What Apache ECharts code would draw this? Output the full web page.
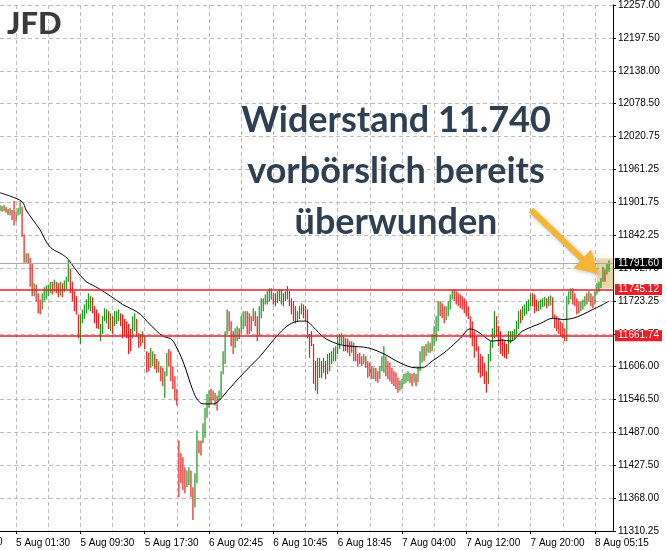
<!DOCTYPE html>
<html><head><meta charset="utf-8">
<script src="https://cdn.jsdelivr.net/npm/echarts@6/dist/echarts.min.js"></script>
<style>html,body{margin:0;padding:0;background:#fff}#c{width:666px;height:550px}</style>
</head><body><div id="c"></div>
<script>
// OHLC rows: [open, close, low, high], 15-minute bars
const bars = [
[11889,11895,11886,11897],[11894,11887,11885,11895],[11888,11895,11886,11897],[11892,11885,11883,11894],[11886,11881,11879,11890],
[11881,11889,11878,11892],[11888,11873,11870,11888],[11874,11862,11860,11904],[11869,11882,11867,11885],[11881,11889,11878,11892],
[11888,11901,11881,11904],[11893,11842,11840,11894],[11842,11796,11793,11844],[11796,11807,11793,11810],[11807,11794,11792,11810],
[11796,11753,11750,11802],[11754,11736,11733,11792],[11736,11753,11733,11756],[11752,11726,11724,11754],[11727,11705,11702,11738],
[11706,11702,11700,11727],[11712,11735,11709,11738],[11734,11746,11724,11749],[11745,11750,11727,11752],[11742,11752,11733,11754],
[11745,11757,11738,11759],[11757,11740,11736,11759],[11741,11760,11741,11763],[11758,11741,11738,11759],[11741,11733,11731,11756],
[11734,11756,11734,11759],[11755,11734,11731,11756],[11744,11758,11741,11761],[11757,11766,11745,11768],[11765,11790,11759,11797],
[11780,11742,11738,11782],[11743,11727,11724,11759],[11728,11709,11706,11742],[11710,11703,11700,11733],[11700,11662,11657,11700],
[11662,11696,11647,11700],[11695,11706,11684,11709],[11706,11715,11692,11718],[11714,11724,11702,11727],[11723,11735,11709,11738],
[11728,11730,11706,11733],[11730,11706,11702,11731],[11706,11688,11684,11715],[11689,11679,11675,11709],[11680,11676,11674,11702],
[11656,11679,11652,11683],[11678,11694,11665,11697],[11694,11708,11688,11711],[11700,11706,11684,11709],[11705,11677,11674,11706],
[11677,11699,11670,11702],[11696,11668,11665,11697],[11682,11702,11679,11706],[11690,11703,11683,11706],[11695,11706,11688,11709],
[11701,11682,11679,11702],[11683,11661,11657,11700],[11675,11665,11661,11692],[11670,11661,11657,11688],[11662,11633,11629,11683],
[11660,11640,11634,11674],[11660,11692,11657,11697],[11680,11699,11670,11702],[11690,11665,11661,11692],[11664,11643,11640,11666],
[11660,11646,11643,11665],[11650,11667,11648,11670],[11659,11641,11638,11661],[11634,11598,11595,11634],[11620,11602,11598,11631],
[11606,11636,11604,11640],[11615,11630,11607,11634],[11627,11605,11602,11629],[11612,11598,11595,11620],[11598,11613,11595,11616],
[11607,11584,11580,11607],[11590,11575,11571,11604],[11575,11594,11550,11598],[11594,11627,11589,11631],[11628,11610,11607,11638],
[11612,11584,11580,11634],[11586,11570,11566,11607],[11575,11549,11545,11589],[11551,11539,11536,11566],[11470,11375,11371,11473],
[11445,11400,11396,11450],[11440,11388,11384,11443],[11420,11382,11378,11425],[11390,11416,11389,11419],[11395,11421,11393,11425],
[11418,11375,11371,11419],[11380,11334,11330,11389],[11356,11410,11353,11414],[11408,11486,11396,11491],[11470,11452,11450,11473],
[11468,11450,11446,11473],[11470,11500,11468,11504],[11498,11528,11478,11532],[11527,11553,11514,11557],[11545,11560,11532,11563],
[11564,11543,11539,11566],[11555,11547,11545,11563],[11542,11556,11536,11559],[11553,11530,11527,11554],[11546,11560,11545,11563],
[11558,11594,11550,11598],[11594,11630,11593,11634],[11628,11666,11611,11670],[11666,11705,11665,11709],[11704,11674,11670,11706],
[11676,11647,11643,11688],[11650,11633,11629,11670],[11640,11671,11640,11675],[11662,11676,11652,11679],[11674,11659,11656,11675],
[11665,11693,11665,11697],[11690,11702,11674,11706],[11695,11703,11679,11706],[11704,11668,11665,11706],[11690,11669,11665,11702],
[11690,11674,11670,11697],[11690,11708,11688,11711],[11705,11682,11679,11706],[11690,11656,11652,11697],[11663,11710,11661,11715],
[11705,11726,11693,11729],[11712,11726,11706,11729],[11722,11733,11718,11736],[11728,11739,11718,11742],[11732,11744,11724,11747],
[11738,11745,11727,11747],[11737,11722,11718,11738],[11733,11718,11715,11738],[11720,11738,11720,11742],[11730,11742,11724,11745],
[11735,11743,11718,11745],[11737,11718,11715,11738],[11725,11739,11724,11742],[11736,11748,11727,11751],[11741,11718,11715,11742],
[11720,11704,11700,11729],[11706,11692,11688,11724],[11700,11688,11684,11715],[11690,11703,11688,11706],[11700,11711,11692,11715],
[11706,11717,11700,11720],[11716,11697,11693,11718],[11705,11691,11688,11715],[11692,11661,11657,11709],[11662,11625,11622,11665],
[11668,11646,11643,11670],[11646,11579,11575,11647],[11600,11566,11563,11616],[11566,11618,11557,11622],[11595,11615,11586,11622],
[11614,11590,11586,11616],[11596,11618,11595,11622],[11615,11588,11584,11616],[11595,11625,11593,11629],[11610,11628,11598,11631],
[11620,11631,11611,11634],[11625,11636,11616,11640],[11630,11640,11616,11643],[11635,11657,11629,11661],[11650,11662,11638,11665],
[11655,11664,11647,11666],[11660,11638,11634,11661],[11650,11637,11634,11657],[11645,11634,11631,11656],[11648,11629,11625,11652],
[11631,11649,11631,11652],[11647,11620,11616,11649],[11635,11620,11616,11643],[11625,11610,11607,11629],[11628,11614,11611,11631],
[11622,11610,11607,11625],[11612,11626,11611,11629],[11624,11607,11604,11625],[11610,11590,11586,11616],[11605,11592,11589,11613],
[11600,11588,11584,11607],[11586,11600,11584,11604],[11600,11584,11580,11604],[11590,11580,11577,11598],[11585,11604,11584,11607],
[11602,11622,11598,11625],[11620,11640,11595,11643],[11624,11594,11589,11625],[11605,11588,11584,11616],[11600,11584,11580,11613],
[11595,11578,11575,11604],[11590,11575,11571,11598],[11585,11570,11566,11595],[11580,11562,11559,11586],[11563,11578,11563,11581],
[11570,11582,11566,11584],[11580,11590,11575,11593],[11585,11592,11577,11595],[11588,11596,11580,11598],[11594,11580,11577,11595],
[11585,11575,11571,11593],[11578,11592,11577,11595],[11590,11575,11571,11593],[11578,11604,11578,11607],[11603,11630,11598,11634],
[11625,11640,11613,11643],[11640,11620,11616,11643],[11625,11644,11625,11647],[11640,11649,11631,11652],[11648,11634,11631,11649],
[11635,11661,11634,11665],[11655,11675,11643,11679],[11670,11693,11652,11697],[11690,11720,11670,11724],[11720,11700,11697,11724],
[11712,11697,11693,11720],[11705,11688,11684,11715],[11690,11711,11690,11715],[11705,11720,11697,11724],[11715,11733,11709,11736],
[11730,11742,11727,11745],[11742,11727,11724,11745],[11735,11722,11718,11742],[11730,11718,11715,11738],[11728,11715,11711,11736],
[11725,11713,11709,11733],[11720,11706,11702,11729],[11715,11700,11697,11724],[11708,11695,11692,11715],[11695,11661,11657,11697],
[11675,11647,11643,11688],[11660,11625,11622,11670],[11655,11638,11634,11661],[11640,11598,11595,11643],[11610,11590,11586,11629],
[11605,11593,11589,11625],[11600,11579,11575,11613],[11585,11563,11559,11598],[11578,11625,11575,11629],[11620,11648,11616,11652],
[11645,11671,11640,11675],[11665,11702,11657,11706],[11695,11665,11661,11697],[11670,11648,11643,11679],[11660,11633,11629,11670],
[11645,11630,11625,11656],[11640,11626,11622,11652],[11638,11624,11620,11647],[11630,11666,11629,11670],[11655,11667,11648,11670],
[11660,11668,11652,11670],[11662,11670,11656,11674],[11668,11684,11661,11688],[11682,11702,11674,11706],[11700,11688,11684,11709],
[11690,11711,11690,11715],[11705,11715,11697,11718],[11710,11720,11700,11724],[11715,11724,11706,11727],[11722,11735,11715,11738],
[11735,11718,11715,11738],[11720,11706,11702,11736],[11718,11709,11706,11727],[11708,11720,11706,11724],[11715,11724,11709,11727],
[11720,11726,11713,11729],[11722,11728,11715,11731],[11727,11714,11711,11729],[11715,11730,11715,11733],[11725,11732,11716,11734],
[11730,11697,11693,11731],[11697,11679,11675,11700],[11690,11674,11670,11697],[11685,11668,11665,11693],[11680,11665,11661,11688],
[11675,11661,11657,11684],[11668,11656,11652,11675],[11656,11728,11652,11733],[11727,11738,11718,11742],[11736,11744,11727,11747],
[11744,11722,11718,11747],[11730,11718,11715,11738],[11720,11704,11700,11729],[11712,11705,11702,11724],[11706,11720,11706,11724],
[11715,11724,11709,11727],[11720,11730,11715,11733],[11735,11722,11718,11738],[11724,11739,11724,11742],[11737,11718,11715,11738],
[11720,11714,11711,11733],[11718,11739,11718,11742],[11738,11753,11736,11756],[11750,11757,11741,11759],[11755,11762,11747,11765],
[11762,11783,11759,11786],[11780,11764,11759,11781],[11772,11788,11772,11792],[11788,11791.6,11777,11797]
];

// Moving average (at these bar indices)
const maIdx = [0,5,11,13,16,20,23,26,31,34,37,40,43,49,55,61,66,70,73,78,81,85,87,91,94,96,98,101,106,109,114,119,124,129,134,139,144,149,152,156,161,168,174,183,191,199,207,210,215,222,229,234,239,242,245,250,254,260,269,275,280,285,290,295,299,303];
const maVal = [11919,11913,11903,11888,11872,11852,11831,11818,11808,11799,11784,11770,11759,11747,11733,11718,11709,11700,11688,11670,11661,11656,11647,11616,11584,11563,11548,11539,11539,11545,11566,11586,11605,11623,11645,11666,11682,11688,11688,11677,11659,11647,11643,11640,11629,11613,11604,11604,11616,11634,11657,11674,11666,11657,11652,11654,11652,11670,11684,11693,11691,11693,11700,11709,11716,11724];

const yTickLabels = ['11310.25','11368.00','11427.50','11487.00','11546.50','11606.00','11663.75','11723.25','11782.75','11842.25','11901.75','11961.25','12020.75','12078.50','12138.00','12197.50','12257.00'];
const xTickIndex = [8,40,72,104,136,168,200,232,264,296];
const xTickLabels = ['5 Aug 01:30','5 Aug 09:30','5 Aug 17:30','6 Aug 02:45','6 Aug 10:45','6 Aug 18:45','7 Aug 04:00','7 Aug 12:00','7 Aug 20:00','8 Aug 05:15'];

const lastPrice = 11791.60;
const resistance = 11745.12;
const support = 11661.74;
const yMin = 11310.25, yMax = 12257.00;
const nCats = 306;
const highlightFrom = [297, 11801], highlightTo = [305, 11747];

const annotation = ['Widerstand 11.740', 'vorbörslich bereits', 'überwunden'];

const categories = Array.from({length: nCats}, (_, i) => String(i));
const labelAt = {};
xTickIndex.forEach((k, j) => { labelAt[k] = xTickLabels[j]; });
const maData = maIdx.map((k, j) => [k, maVal[j]]);
const barData = bars.map((b, i) => [i, b[0], b[1], b[2], b[3]]);

const AXIS_FONT = "'Liberation Sans',Arial,sans-serif";
const AXIS_SIZE = 10;
const UP = '#1c961c', DOWN = '#e61e1e';
const RED_LINE = '#ee1c24';

const chart = echarts.init(document.getElementById('c'), null, {renderer: 'canvas'});

const arrowColor = '#F3B733';
// arrow geometry (annotation, pixel space)
const tail = [531, 210], tip = [598, 274];
const dx = tip[0]-tail[0], dy = tip[1]-tail[1], L = Math.hypot(dx, dy);
const ux = dx/L, uy = dy/L, px = -uy, py = ux;
const headLen = 22, headHalf = 13;
const bx = tip[0]-ux*headLen, by = tip[1]-uy*headLen;

chart.setOption({
  animation: false,
  backgroundColor: '#ffffff',
  grid: {left: 0, right: 53, top: 2, bottom: 19, containLabel: false},
  xAxis: {
    type: 'category',
    data: categories,
    boundaryGap: false,
    offset: 2,
    axisLine: {show: true, lineStyle: {color: '#000', width: 1}},
    axisTick: {show: true, length: 3, interval: (i) => labelAt[i] !== undefined, lineStyle: {color: '#000'}},
    axisLabel: {
      show: true, interval: (i) => labelAt[i] !== undefined,
      formatter: (v, i) => labelAt[i] || '',
      align: 'left', margin: 5, color: '#000', fontSize: AXIS_SIZE, fontFamily: AXIS_FONT
    },
    splitLine: {show: true, interval: (i) => (i - 8) % 16 === 0, lineStyle: {color: '#bdbdbd', type: [4, 3], width: 1}}
  },
  yAxis: [
    {type: 'value', min: yMin, max: yMax, show: false, scale: true, splitLine: {show: false}},
    {
      type: 'value', min: 0, max: yTickLabels.length - 1, interval: 1, position: 'right',
      axisLine: {show: true, lineStyle: {color: '#000', width: 1}},
      axisTick: {show: true, length: 3, inside: false, lineStyle: {color: '#000'}},
      axisLabel: {show: true, margin: 5, color: '#000', fontSize: AXIS_SIZE, fontFamily: AXIS_FONT,
        formatter: (v) => yTickLabels[Math.round(v)] || ''},
      splitLine: {show: true, lineStyle: {color: '#bdbdbd', type: [4, 3], width: 1}}
    }
  ],
  series: [
    {
      type: 'custom',
      xAxisIndex: 0, yAxisIndex: 0,
      data: barData,
      encode: {x: 0, y: [1, 2, 3, 4]},
      clip: true,
      renderItem: (params, api) => {
        const i = api.value(0), o = api.value(1), c = api.value(2), lo = api.value(3), hi = api.value(4);
        const p1 = api.coord([i, lo]), p2 = api.coord([i, hi]);
        return {type: 'line', shape: {x1: p1[0], y1: p1[1], x2: p2[0], y2: p2[1]},
          style: {stroke: c >= o ? UP : DOWN, lineWidth: 1.2}};
      },
      markLine: {
        silent: true, symbol: 'none', animation: false,
        label: {position: 'end', distance: 2, color: '#fff', fontSize: AXIS_SIZE, fontFamily: AXIS_FONT, padding: [1, 3, 0, 3]},
        data: [
          {yAxis: lastPrice, lineStyle: {color: '#aaaaaa', width: 1, type: 'solid'},
            label: {formatter: lastPrice.toFixed(2), backgroundColor: '#000'}},
          {yAxis: resistance, lineStyle: {color: RED_LINE, width: 1.5, type: 'solid'},
            label: {formatter: resistance.toFixed(2), backgroundColor: RED_LINE}},
          {yAxis: support, lineStyle: {color: RED_LINE, width: 1.5, type: 'solid'},
            label: {formatter: support.toFixed(2), backgroundColor: RED_LINE}}
        ]
      },
      markArea: {
        silent: true,
        itemStyle: {color: 'rgba(215,185,105,0.45)', shadowBlur: 6, shadowColor: 'rgba(215,185,105,0.6)'},
        data: [[{xAxis: highlightFrom[0], yAxis: highlightFrom[1]}, {xAxis: highlightTo[0], yAxis: highlightTo[1]}]]
      }
    },
    {
      type: 'line',
      xAxisIndex: 0, yAxisIndex: 0,
      data: maData,
      symbol: 'none',
      smooth: 0.35,
      lineStyle: {color: '#000', width: 1},
      z: 3
    }
  ],
  graphic: [
    {type: 'text', left: 7, top: 8, z: 10,
      style: {text: 'JFD', font: "900 31px Lato, 'Open Sans', sans-serif", fill: '#3a3a3a'}},
    {type: 'text', x: -3, y: 537, z: 10,
      style: {text: '0', font: AXIS_SIZE + "px 'Liberation Sans', Arial, sans-serif", fill: '#000'}},
    {type: 'text', x: 396, y: 120, z: 10,
      style: {text: annotation[0], font: "bold 36px Lato, sans-serif", fill: '#2e3f51', textAlign: 'center', textVerticalAlign: 'middle'}},
    {type: 'text', x: 396, y: 171, z: 10,
      style: {text: annotation[1], font: "bold 36px Lato, sans-serif", fill: '#2e3f51', textAlign: 'center', textVerticalAlign: 'middle'}},
    {type: 'text', x: 396, y: 222, z: 10,
      style: {text: annotation[2], font: "bold 36px Lato, sans-serif", fill: '#2e3f51', textAlign: 'center', textVerticalAlign: 'middle'}},
    {type: 'polyline', z: 11,
      shape: {points: [tail, [bx, by]]},
      style: {stroke: arrowColor, lineWidth: 6, shadowBlur: 4, shadowColor: 'rgba(0,0,0,0.25)', shadowOffsetX: 1, shadowOffsetY: 1}},
    {type: 'polygon', z: 11,
      shape: {points: [tip, [bx + px*headHalf, by + py*headHalf], [bx - px*headHalf, by - py*headHalf]]},
      style: {fill: arrowColor, shadowBlur: 4, shadowColor: 'rgba(0,0,0,0.25)', shadowOffsetX: 1, shadowOffsetY: 1}}
  ]
});
</script>
</body></html>
